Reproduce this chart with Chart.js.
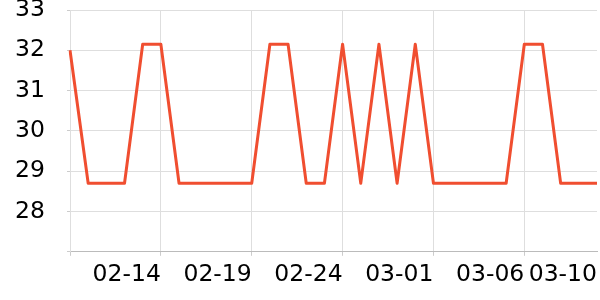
<!DOCTYPE html>
<html>
<head>
<meta charset="utf-8">
<script src="https://cdn.jsdelivr.net/npm/chart.js@4/dist/chart.umd.min.js"></script>
<style>
  html, body { margin: 0; padding: 0; background: #fff; }
  #wrap { width: 600px; height: 300px; }
</style>
</head>
<body>
<div id="wrap"><canvas id="temp_chart"></canvas></div>
<script>
// daily readings, 02-09 .. 03-10
const dates = [
  "02-09", "02-10", "02-11", "02-12", "02-13", "02-14", "02-15", "02-16", "02-17", "02-18",
  "02-19", "02-20", "02-21", "02-22", "02-23", "02-24", "02-25", "02-26", "02-27", "02-28",
  "03-01", "03-02", "03-03", "03-04", "03-05", "03-06", "03-07", "03-08", "03-09", "03-10"
];
const values = [
  32.0, 28.7, 28.7, 28.7, 32.15, 32.15, 28.7, 28.7, 28.7, 28.7,
  28.7, 32.15, 32.15, 28.7, 28.7, 32.15, 28.7, 32.15, 28.7, 32.15,
  28.7, 28.7, 28.7, 28.7, 28.7, 32.15, 32.15, 28.7, 28.7, 28.7
];
const shownDates = ["02-14", "02-19", "02-24", "03-01", "03-06", "03-10"];
const yMin = 27;
const yMax = 33;

const gridColor = '#dedede';

new Chart(document.getElementById("temp_chart"), {
    type: "line",
    data: {
        labels: dates,
        datasets: [
            {
                label: "Value",
                data: values,
                fill: false,
                borderColor: "#f04e30",
                backgroundColor: "#f04e30",
                borderWidth: 3,
                borderJoinStyle: 'round',
                pointRadius: 0,
                tension: 0
            }
        ]
    },
    options: {
        responsive: true,
        maintainAspectRatio: false,
        animation: false,
        layout: {
            padding: { top: 10, right: 3, bottom: 6, left: 0 }
        },
        plugins: {
            legend: { display: false },
            tooltip: { enabled: false }
        },
        scales: {
            x: {
                border: { color: '#bbbbbb' },
                grid: {
                    color: (ctx) => ctx.index % 5 === 0 ? gridColor : 'rgba(0,0,0,0)',
                    tickColor: (ctx) => ctx.index % 5 === 0 ? '#cccccc' : 'rgba(0,0,0,0)',
                    tickLength: 4
                },
                afterFit: (scale) => {
                    scale.paddingLeft = 0;
                    scale.paddingRight = 0;
                },
                ticks: {
                    autoSkip: false,
                    maxRotation: 0,
                    minRotation: 0,
                    align: 'end',
                    padding: 5,
                    color: '#000',
                    font: { family: 'DejaVu Sans', size: 23.5 },
                    callback: function(value, index) {
                        const lbl = dates[index];
                        return shownDates.includes(lbl) ? lbl : '';
                    }
                }
            },
            y: {
                min: yMin,
                max: yMax,
                border: { color: gridColor },
                grid: {
                    color: gridColor,
                    tickColor: '#cccccc',
                    tickLength: 3
                },
                afterFit: (scale) => {
                    scale.width = 70;
                    scale.paddingTop = 0;
                    scale.paddingBottom = 0;
                },
                ticks: {
                    stepSize: 1,
                    padding: 22,
                    color: '#000',
                    font: { family: 'DejaVu Sans', size: 23.5 },
                    callback: (value) => value === yMin ? '' : value
                }
            }
        }
    }
});
</script>
</body>
</html>
